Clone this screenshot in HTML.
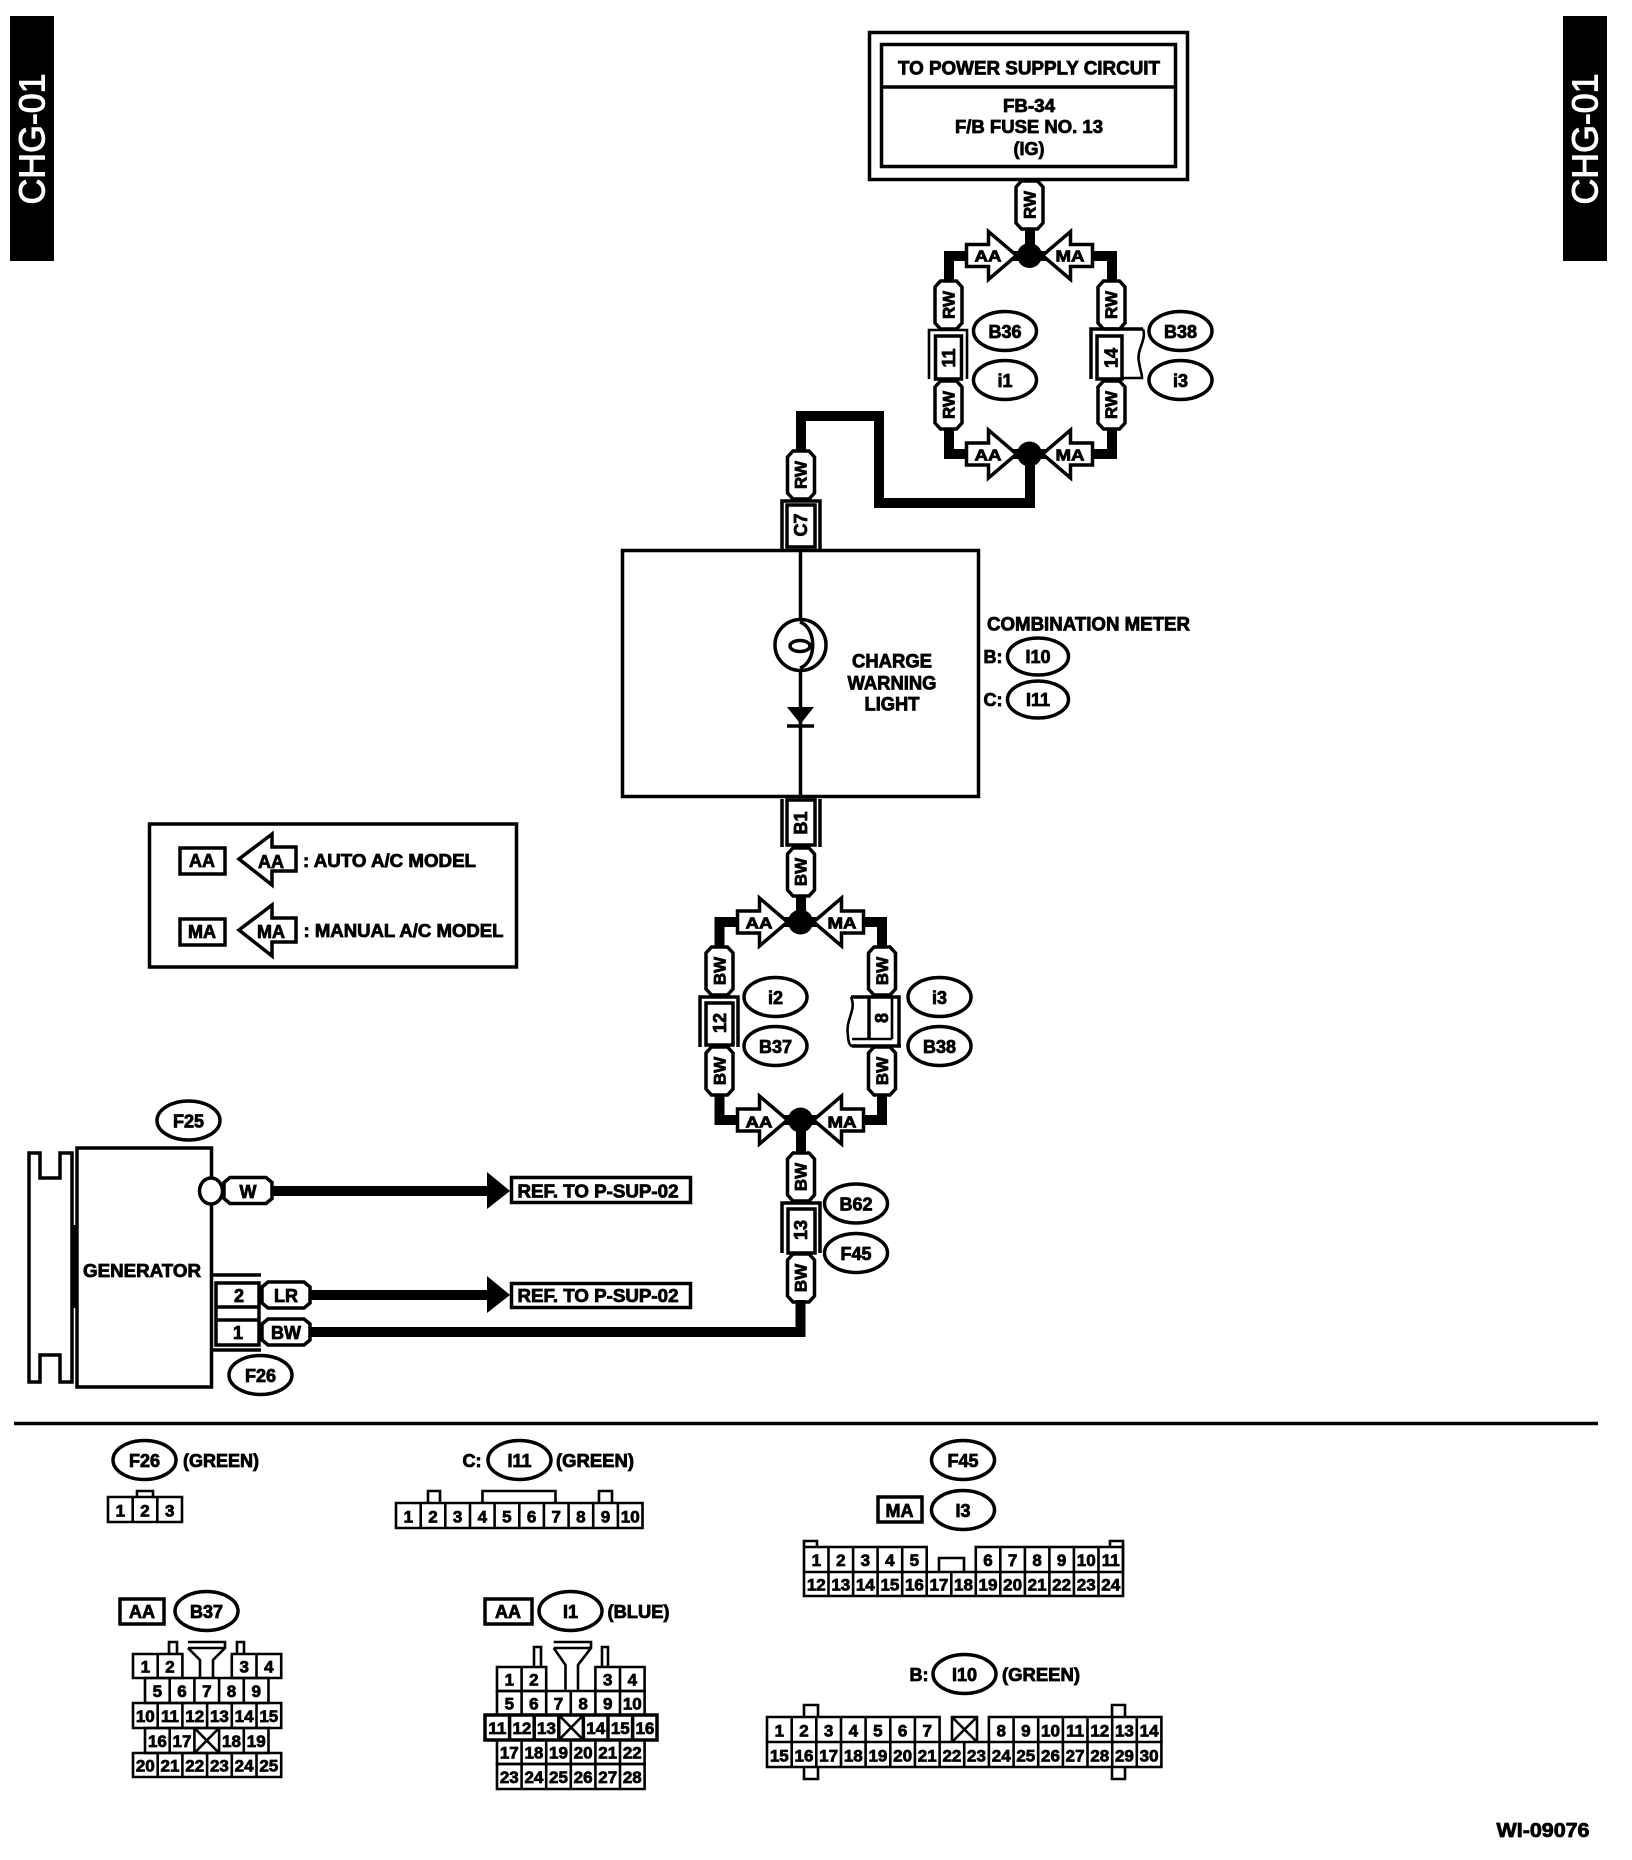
<!DOCTYPE html>
<html><head><meta charset="utf-8"><style>
html,body{margin:0;padding:0;background:#fff}
svg{display:block}
text{font-family:"Liberation Sans",sans-serif;font-weight:bold;fill:#000;stroke:#000;stroke-width:.8;text-anchor:middle;dominant-baseline:central;font-size:18px}
text:not([transform]){transform:translateY(.8px)}
.w{fill:none;stroke:#000;stroke-width:10;stroke-linejoin:miter}
.b{fill:#fff;stroke:#000;stroke-width:3.5}
.n{fill:none;stroke:#000;stroke-width:3.5}
.c{fill:none;stroke:#000;stroke-width:2.6}
.e{fill:#fff;stroke:#000;stroke-width:3.5}
.s{font-size:16px}
.ws{font-size:17px}
.d{font-size:17px;stroke-width:.75}
</style></head><body>
<svg width="1632" height="1860" viewBox="0 0 1632 1860" xmlns="http://www.w3.org/2000/svg">
<defs>
<polygon id="vc" class="b" points="-8,-24 8,-24 13.5,-18 13.5,18 8,24 -8,24 -13.5,18 -13.5,-18"/>
<polygon id="hc" class="b" points="-24,-8 -24,8 -18,13 18,13 24,8 24,-8 18,-13 -18,-13"/>
<g id="jn">
<polygon class="b" points="-63,-11 -41,-11 -41,-24 -13,0 -41,24 -41,11 -63,11"/>
<polygon class="b" points="63,-11 41,-11 41,-24 13,0 41,24 41,11 63,11"/>
<circle r="12.5" fill="#000"/>
</g>
</defs>
<rect width="1632" height="1860" fill="#fff"/>

<!-- side tabs -->
<rect x="10" y="16" width="44" height="245" fill="#000"/>
<rect x="1563" y="16" width="44" height="245" fill="#000"/>
<text transform="rotate(-90 32 139)" x="32" y="139" textLength="131" lengthAdjust="spacingAndGlyphs" style="font-size:36px;font-weight:normal;fill:#fff;stroke:#fff;stroke-width:1">CHG-01</text>
<text transform="rotate(-90 1585 139)" x="1585" y="139" textLength="131" lengthAdjust="spacingAndGlyphs" style="font-size:36px;font-weight:normal;fill:#fff;stroke:#fff;stroke-width:1">CHG-01</text>

<!-- power box -->
<rect x="869.500" y="32.500" width="318" height="147" class="n"/>
<rect x="881.500" y="44.500" width="294" height="122" class="n"/>
<path d="M881 87H1176" class="n"/>
<text x="1029" y="68" textLength="262" lengthAdjust="spacingAndGlyphs" style="font-size:19px">TO POWER SUPPLY CIRCUIT</text>
<text x="1029" y="105" textLength="52" lengthAdjust="spacingAndGlyphs">FB-34</text>
<text x="1029" y="126" textLength="148" lengthAdjust="spacingAndGlyphs">F/B FUSE NO. 13</text>
<text x="1029" y="148">(IG)</text>

<!-- wires top group -->
<path class="w" d="M1030 225V255M1030 454V503H879V416H801V455"/>
<path class="w" d="M1030 256H949V290M1030 256H1112V290M949 420V454H1112V420"/>
<use href="#jn" x="1029.500" y="255.500"/>
<use href="#jn" x="1029.500" y="454"/>
<text class="s" x="988" y="256" textLength="27" lengthAdjust="spacingAndGlyphs">AA</text>
<text class="s" x="1070" y="256" textLength="29" lengthAdjust="spacingAndGlyphs">MA</text>
<text class="s" x="988" y="455" textLength="27" lengthAdjust="spacingAndGlyphs">AA</text>
<text class="s" x="1070" y="455" textLength="29" lengthAdjust="spacingAndGlyphs">MA</text>

<use href="#vc" x="1029.500" y="205"/>
<text class="ws" transform="rotate(-90 1030 205)" x="1030" y="205">RW</text>
<use href="#vc" x="948.500" y="305"/>
<text class="ws" transform="rotate(-90 949 305)" x="949" y="305">RW</text>
<use href="#vc" x="948.500" y="405"/>
<text class="ws" transform="rotate(-90 949 405)" x="949" y="405">RW</text>
<use href="#vc" x="1111.500" y="305"/>
<text class="ws" transform="rotate(-90 1111.500 305)" x="1111.500" y="305">RW</text>
<use href="#vc" x="1111.500" y="405"/>
<text class="ws" transform="rotate(-90 1111.500 405)" x="1111.500" y="405">RW</text>

<!-- connector 11 -->
<path class="c" d="M929 379V330H967V379"/>
<rect x="935.500" y="336" width="26" height="43" class="n"/>
<text transform="rotate(-90 949 358)" x="949" y="358">11</text>
<!-- connector 14 -->
<path class="n" d="M1091 379V329H1143"/>
<path class="c" d="M1143 329C1147 340 1136 350 1139 362C1140 370 1142 373 1142 378H1122"/>
<rect x="1097" y="336" width="25" height="43" class="n"/>
<text transform="rotate(-90 1111.500 358)" x="1111.500" y="358">14</text>

<ellipse class="e" cx="1005" cy="331" rx="31.500" ry="19.500"/>
<text x="1005" y="331">B36</text>
<ellipse class="e" cx="1005" cy="380" rx="31.500" ry="19.500"/>
<text x="1005" y="380">i1</text>
<ellipse class="e" cx="1180.500" cy="331" rx="31.500" ry="19.500"/>
<text x="1180.500" y="331">B38</text>
<ellipse class="e" cx="1180.500" cy="380" rx="31.500" ry="19.500"/>
<text x="1180.500" y="380">i3</text>

<!-- RW / C7 -->
<use href="#vc" x="801" y="475"/>
<text class="ws" transform="rotate(-90 801 475)" x="801" y="475">RW</text>
<path class="n" d="M782 549V501H820V549"/>
<rect x="787" y="505" width="28" height="42" class="n"/>
<text transform="rotate(-90 801 525)" x="801" y="525">C7</text>

<!-- meter -->
<rect x="622.500" y="550.500" width="356" height="246" class="n"/>
<path class="n" d="M800.500 550V620M800.500 670V797"/>
<ellipse class="n" cx="800.500" cy="645" rx="25.500" ry="25.500"/>
<path class="n" d="M800 622C817 628 817 662 800 668"/>
<ellipse class="n" cx="800" cy="646" rx="10" ry="5.500"/>
<polygon points="787,707 814,707 800.500,724" fill="#000"/>
<path d="M787 726H814" class="n"/>
<text x="892" y="661" textLength="80" lengthAdjust="spacingAndGlyphs" style="font-size:19px">CHARGE</text>
<text x="892" y="683" textLength="89" lengthAdjust="spacingAndGlyphs" style="font-size:19px">WARNING</text>
<text x="892" y="704" textLength="55" lengthAdjust="spacingAndGlyphs" style="font-size:19px">LIGHT</text>
<text x="1088.500" y="624" textLength="203" lengthAdjust="spacingAndGlyphs" style="font-size:19px">COMBINATION METER</text>
<text x="993" y="656">B:</text>
<text x="993" y="699">C:</text>
<ellipse class="e" cx="1038" cy="656.500" rx="30.500" ry="18.500"/>
<text x="1038" y="656">I10</text>
<ellipse class="e" cx="1038" cy="699.500" rx="30.500" ry="18.500"/>
<text x="1038" y="699">I11</text>

<!-- B1 -->
<path class="n" d="M782 799V847M820 799V847"/>
<rect x="787" y="800" width="28" height="45" class="n"/>
<text transform="rotate(-90 801 823)" x="801" y="823">B1</text>
<use href="#vc" x="801" y="872"/>
<text class="ws" transform="rotate(-90 801 872)" x="801" y="872">BW</text>

<!-- lower group -->
<path class="w" d="M801 895V922M801 1120V1155"/>
<path class="w" d="M801 922H719.500V955M801 922H882V955M719.500 1090V1120H882V1090"/>
<use href="#jn" x="800.500" y="922"/>
<use href="#jn" x="800.500" y="1120"/>
<text class="s" x="759" y="923" textLength="27" lengthAdjust="spacingAndGlyphs">AA</text>
<text class="s" x="842" y="923" textLength="29" lengthAdjust="spacingAndGlyphs">MA</text>
<text class="s" x="759" y="1122" textLength="27" lengthAdjust="spacingAndGlyphs">AA</text>
<text class="s" x="842" y="1122" textLength="29" lengthAdjust="spacingAndGlyphs">MA</text>
<use href="#vc" x="719.500" y="971"/>
<text class="ws" transform="rotate(-90 720 971)" x="720" y="971">BW</text>
<use href="#vc" x="719.500" y="1071"/>
<text class="ws" transform="rotate(-90 720 1071)" x="720" y="1071">BW</text>
<use href="#vc" x="882" y="971"/>
<text class="ws" transform="rotate(-90 882.500 971)" x="882.500" y="971">BW</text>
<use href="#vc" x="882" y="1071"/>
<text class="ws" transform="rotate(-90 882.500 1071)" x="882.500" y="1071">BW</text>

<!-- connector 12 -->
<path class="n" d="M700 1047V997H738V1047"/>
<rect x="706" y="1003" width="27" height="42" class="n"/>
<text transform="rotate(-90 720 1023)" x="720" y="1023">12</text>
<!-- connector 8 -->
<path class="n" d="M899 1046V997H851"/>
<path class="c" d="M851 997C857 1010 845 1020 848 1035C848 1042 850 1046 852 1046"/>
<path class="n" d="M852 1046H901"/>
<path class="c" d="M852 1039H892M892 998V1039"/>
<path class="n" d="M869 998V1039"/>
<text transform="rotate(-90 882 1018)" x="882" y="1018">8</text>

<ellipse class="e" cx="775.500" cy="997" rx="31.500" ry="19.500"/>
<text x="775.500" y="997">i2</text>
<ellipse class="e" cx="775.500" cy="1046" rx="31.500" ry="19.500"/>
<text x="775.500" y="1046">B37</text>
<ellipse class="e" cx="939.500" cy="997" rx="31.500" ry="19.500"/>
<text x="939.500" y="997">i3</text>
<ellipse class="e" cx="939.500" cy="1046" rx="31.500" ry="19.500"/>
<text x="939.500" y="1046">B38</text>

<!-- 13 -->
<use href="#vc" x="801" y="1177"/>
<text class="ws" transform="rotate(-90 801 1177)" x="801" y="1177">BW</text>
<path class="n" d="M782 1253V1203H820V1253"/>
<rect x="788" y="1209" width="27" height="44" class="n"/>
<text transform="rotate(-90 801 1230)" x="801" y="1230">13</text>
<use href="#vc" x="801" y="1278"/>
<text class="ws" transform="rotate(-90 801 1278)" x="801" y="1278">BW</text>
<ellipse class="e" cx="856" cy="1203.500" rx="31.500" ry="19.500"/>
<text x="856" y="1203.500">B62</text>
<ellipse class="e" cx="856" cy="1253" rx="31.500" ry="19.500"/>
<text x="856" y="1253">F45</text>

<!-- legend -->
<rect x="149.500" y="824" width="367" height="143" class="n"/>
<rect x="180" y="848" width="45" height="26" class="n"/>
<text x="202" y="860">AA</text>
<polygon class="b" points="239,859 272,834 272,847 296,847 296,871 272,871 272,885"/>
<text x="271" y="861">AA</text>
<text x="389.500" y="860" textLength="173" lengthAdjust="spacingAndGlyphs">: AUTO A/C MODEL</text>
<rect x="180" y="919" width="45" height="26" class="n"/>
<text x="202" y="931">MA</text>
<polygon class="b" points="239,930 272,905 272,918 296,918 296,942 272,942 272,956"/>
<text x="271" y="931">MA</text>
<text x="403.500" y="930" textLength="200" lengthAdjust="spacingAndGlyphs">: MANUAL A/C MODEL</text>

<!-- generator -->
<path class="n" d="M29 1153H40V1178H60V1153H72V1382H60V1355H40V1382H29Z"/>
<path d="M74 1225V1308" class="n"/>
<rect x="77" y="1148" width="134.500" height="239" class="b"/>
<text x="142" y="1270" textLength="118" lengthAdjust="spacingAndGlyphs">GENERATOR</text>
<ellipse class="e" cx="211" cy="1191" rx="11.500" ry="13"/>
<ellipse class="e" cx="188.500" cy="1120.500" rx="31.500" ry="19.500"/>
<text x="188.500" y="1120.500">F25</text>
<ellipse class="e" cx="260.500" cy="1375" rx="31.500" ry="19.500"/>
<text x="260.500" y="1375">F26</text>

<path class="w" d="M270 1191H490M305 1295H490M305 1332H800.500V1300"/>
<use href="#hc" x="248" y="1190.500"/>
<text x="248" y="1191">W</text>
<use href="#hc" x="286" y="1295"/>
<text x="286" y="1295">LR</text>
<use href="#hc" x="286" y="1332"/>
<text x="286" y="1332">BW</text>
<polygon points="487,1172 510,1191 487,1209" fill="#000"/>
<polygon points="487,1276 510,1295 487,1313" fill="#000"/>
<rect x="511.500" y="1177.500" width="179" height="25" class="n"/>
<rect x="511.500" y="1283.500" width="179" height="24" class="n"/>
<text x="598" y="1190.500" textLength="161" lengthAdjust="spacingAndGlyphs">REF. TO P-SUP-02</text>
<text x="598" y="1295" textLength="161" lengthAdjust="spacingAndGlyphs">REF. TO P-SUP-02</text>
<path class="n" d="M212 1275H261M212 1350H261"/>
<rect x="216" y="1283" width="43" height="62" class="n"/>
<path class="n" d="M216 1307H259M216 1320H259"/>
<text x="239" y="1295">2</text>
<text x="238" y="1332">1</text>

<!-- divider -->
<path d="M14 1423.500H1598" class="n"/>

<!-- F26 -->
<ellipse class="e" cx="144.500" cy="1460" rx="31.500" ry="19.500"/>
<text x="144.500" y="1460">F26</text>
<text x="221" y="1460" textLength="76" lengthAdjust="spacingAndGlyphs">(GREEN)</text>
<path class="c" d="M137 1497V1491H153V1497"/>
<path class="c" d="M108 1497H182V1522H108ZM132.700 1497V1522M157.300 1497V1522"/>
<text class="d" x="120.300" y="1510">1</text><text class="d" x="145" y="1510">2</text><text class="d" x="169.700" y="1510">3</text>

<!-- I11 -->
<text x="472" y="1460">C:</text>
<ellipse class="e" cx="519.500" cy="1460" rx="31.500" ry="19.500"/>
<text x="519.500" y="1460">I11</text>
<text x="595" y="1460" textLength="78" lengthAdjust="spacingAndGlyphs">(GREEN)</text>
<path class="c" d="M428 1503V1491H440V1503M482.500 1503V1491H555.500V1503M599 1503V1491H612V1503"/>
<path class="c" d="M396 1503H642.500V1528H396ZM420.700 1503V1528M445.300 1503V1528M470 1503V1528M494.600 1503V1528M519.300 1503V1528M543.900 1503V1528M568.600 1503V1528M593.200 1503V1528M617.900 1503V1528"/>
<text class="d" x="408.300" y="1516">1</text><text class="d" x="433" y="1516">2</text><text class="d" x="457.600" y="1516">3</text><text class="d" x="482.300" y="1516">4</text><text class="d" x="506.900" y="1516">5</text><text class="d" x="531.600" y="1516">6</text><text class="d" x="556.200" y="1516">7</text><text class="d" x="580.900" y="1516">8</text><text class="d" x="605.500" y="1516">9</text><text class="d" x="630.200" y="1516">10</text>

<!-- B37 -->
<rect x="120" y="1599" width="44" height="25" class="n"/>
<text x="142" y="1611">AA</text>
<ellipse class="e" cx="206.500" cy="1611" rx="31.500" ry="19.500"/>
<text x="206.500" y="1611">B37</text>
<path class="c" d="M169 1654V1642H177V1654M237 1654V1642H244V1654"/>
<path class="c" d="M188 1642H225V1648L213 1660V1678M188 1648H225M188 1648L200 1660V1678"/>
<path class="c" d="M133 1654H182.400V1678H133ZM157.700 1654V1678M231.800 1654H281.200V1678H231.800ZM256.500 1654V1678"/>
<path class="c" d="M145 1678H268.500V1703H145ZM169.700 1678V1703M194.400 1678V1703M219.100 1678V1703M243.800 1678V1703"/>
<path class="c" d="M133 1703H281.200V1728H133ZM157.700 1703V1728M182.400 1703V1728M207.100 1703V1728M231.800 1703V1728M256.500 1703V1728"/>
<path class="c" d="M145 1728H268.500V1753H145ZM169.700 1728V1753M194.400 1728V1753M219.100 1728V1753M243.800 1728V1753M194.400 1728L219.100 1753M219.100 1728L194.400 1753"/>
<path class="c" d="M133 1753H281.200V1777H133ZM157.700 1753V1777M182.400 1753V1777M207.100 1753V1777M231.800 1753V1777M256.500 1753V1777"/>
<text class="d" x="145.300" y="1666">1</text><text class="d" x="170" y="1666">2</text><text class="d" x="244.200" y="1666">3</text><text class="d" x="268.800" y="1666">4</text>
<text class="d" x="157.400" y="1690.500">5</text><text class="d" x="182" y="1690.500">6</text><text class="d" x="206.800" y="1690.500">7</text><text class="d" x="231.500" y="1690.500">8</text><text class="d" x="256.200" y="1690.500">9</text>
<text class="d" x="145.300" y="1715.500">10</text><text class="d" x="170" y="1715.500">11</text><text class="d" x="194.700" y="1715.500">12</text><text class="d" x="219.400" y="1715.500">13</text><text class="d" x="244.100" y="1715.500">14</text><text class="d" x="268.800" y="1715.500">15</text>
<text class="d" x="157.400" y="1740.500">16</text><text class="d" x="182" y="1740.500">17</text><text class="d" x="231.500" y="1740.500">18</text><text class="d" x="256.200" y="1740.500">19</text>
<text class="d" x="145.300" y="1765">20</text><text class="d" x="170" y="1765">21</text><text class="d" x="194.700" y="1765">22</text><text class="d" x="219.400" y="1765">23</text><text class="d" x="244.100" y="1765">24</text><text class="d" x="268.800" y="1765">25</text>

<!-- I1 -->
<rect x="485" y="1599" width="47" height="25" class="n"/>
<text x="508" y="1611">AA</text>
<ellipse class="e" cx="570.500" cy="1611" rx="31.500" ry="19.500"/>
<text x="570.500" y="1611">I1</text>
<text x="638.500" y="1611" textLength="62" lengthAdjust="spacingAndGlyphs">(BLUE)</text>
<path class="c" d="M534 1667V1647H541V1667M602 1667V1647H608V1667"/>
<path class="c" d="M553.700 1642H591V1648L578 1665V1691M553.700 1648H591M553.700 1648L565.500 1665V1691"/>
<path class="c" d="M497 1667H546.200V1691H497ZM521.600 1667V1691M595.400 1667H644.600V1691H595.400ZM620 1667V1691"/>
<path class="c" d="M497 1691H644.600V1715H497ZM521.600 1691V1715M546.200 1691V1715M570.800 1691V1715M595.400 1691V1715M620 1691V1715"/>
<path class="n" d="M485 1715H657V1740H485ZM509.600 1715V1740M534.200 1715V1740M558.800 1715V1740M583.400 1715V1740M608 1715V1740M632.600 1715V1740"/>
<path class="c" d="M558.800 1715L583.400 1740M583.400 1715L558.800 1740"/>
<path class="c" d="M497 1740H644.600V1764H497ZM521.600 1740V1764M546.200 1740V1764M570.800 1740V1764M595.400 1740V1764M620 1740V1764"/>
<path class="c" d="M497 1764H644.600V1789H497ZM521.600 1764V1789M546.200 1764V1789M570.800 1764V1789M595.400 1764V1789M620 1764V1789"/>
<text class="d" x="509.300" y="1679">1</text><text class="d" x="533.900" y="1679">2</text><text class="d" x="607.700" y="1679">3</text><text class="d" x="632.300" y="1679">4</text>
<text class="d" x="509.300" y="1703">5</text><text class="d" x="533.900" y="1703">6</text><text class="d" x="558.500" y="1703">7</text><text class="d" x="583.100" y="1703">8</text><text class="d" x="607.700" y="1703">9</text><text class="d" x="632.300" y="1703">10</text>
<text class="d" x="497.300" y="1727.500">11</text><text class="d" x="521.900" y="1727.500">12</text><text class="d" x="546.500" y="1727.500">13</text><text class="d" x="595.700" y="1727.500">14</text><text class="d" x="620.300" y="1727.500">15</text><text class="d" x="644.900" y="1727.500">16</text>
<text class="d" x="509.300" y="1752">17</text><text class="d" x="533.900" y="1752">18</text><text class="d" x="558.500" y="1752">19</text><text class="d" x="583.100" y="1752">20</text><text class="d" x="607.700" y="1752">21</text><text class="d" x="632.300" y="1752">22</text>
<text class="d" x="509.300" y="1776.500">23</text><text class="d" x="533.900" y="1776.500">24</text><text class="d" x="558.500" y="1776.500">25</text><text class="d" x="583.100" y="1776.500">26</text><text class="d" x="607.700" y="1776.500">27</text><text class="d" x="632.300" y="1776.500">28</text>

<!-- F45 / I3 -->
<ellipse class="e" cx="963" cy="1460" rx="31.500" ry="19.500"/>
<text x="963" y="1460">F45</text>
<rect x="878" y="1497" width="44" height="25" class="n"/>
<text x="899.500" y="1510">MA</text>
<ellipse class="e" cx="963" cy="1510" rx="31.500" ry="19.500"/>
<text x="963" y="1510">I3</text>
<path class="c" d="M804 1547V1541H817V1547M1110 1547V1541H1123V1547M939 1572V1558H964V1572"/>
<path class="c" d="M804 1547H926.700V1572M828.500 1547V1572M853.100 1547V1572M877.600 1547V1572M902.200 1547V1572M975.800 1572V1547H1123V1572M1000.300 1547V1572M1024.900 1547V1572M1049.400 1547V1572M1073.900 1547V1572M1098.500 1547V1572"/>
<path class="c" d="M804 1547V1596H1123V1547M804 1572H1123M828.500 1572V1596M853.100 1572V1596M877.600 1572V1596M902.200 1572V1596M926.700 1572V1596M951.300 1572V1596M975.800 1572V1596M1000.300 1572V1596M1024.900 1572V1596M1049.400 1572V1596M1073.900 1572V1596M1098.500 1572V1596"/>
<text class="d" x="816.300" y="1559.500">1</text><text class="d" x="840.800" y="1559.500">2</text><text class="d" x="865.300" y="1559.500">3</text><text class="d" x="889.900" y="1559.500">4</text><text class="d" x="914.400" y="1559.500">5</text><text class="d" x="988" y="1559.500">6</text><text class="d" x="1012.600" y="1559.500">7</text><text class="d" x="1037.100" y="1559.500">8</text><text class="d" x="1061.600" y="1559.500">9</text><text class="d" x="1086.200" y="1559.500">10</text><text class="d" x="1110.700" y="1559.500">11</text>
<text class="d" x="816.300" y="1584">12</text><text class="d" x="840.800" y="1584">13</text><text class="d" x="865.300" y="1584">14</text><text class="d" x="889.900" y="1584">15</text><text class="d" x="914.400" y="1584">16</text><text class="d" x="938.900" y="1584">17</text><text class="d" x="963.500" y="1584">18</text><text class="d" x="988" y="1584">19</text><text class="d" x="1012.600" y="1584">20</text><text class="d" x="1037.100" y="1584">21</text><text class="d" x="1061.600" y="1584">22</text><text class="d" x="1086.200" y="1584">23</text><text class="d" x="1110.700" y="1584">24</text>

<!-- I10 -->
<text x="919" y="1674">B:</text>
<ellipse class="e" cx="964.500" cy="1674" rx="31.500" ry="19.500"/>
<text x="964.500" y="1674">I10</text>
<text x="1041" y="1674" textLength="78" lengthAdjust="spacingAndGlyphs">(GREEN)</text>
<path class="c" d="M804 1717V1705H818V1717M1112 1717V1705H1125V1717M804 1767V1779H818V1767M1112 1767V1779H1125V1767"/>
<path class="c" d="M767 1742V1717H939.600V1742M791.700 1717V1742M816.300 1717V1742M841 1717V1742M865.600 1717V1742M890.300 1717V1742M914.900 1717V1742M988.900 1742V1717H1161.400V1742M1013.600 1717V1742M1038.200 1717V1742M1062.900 1717V1742M1087.500 1717V1742M1112.200 1717V1742M1136.800 1717V1742"/>
<path class="c" d="M952 1742V1717H977V1742M952 1742L977 1717M952 1717L977 1742"/>
<path class="c" d="M767 1742H1161.400V1767H767ZM791.700 1742V1767M816.300 1742V1767M841 1742V1767M865.600 1742V1767M890.300 1742V1767M914.900 1742V1767M939.600 1742V1767M964.200 1742V1767M988.900 1742V1767M1013.600 1742V1767M1038.200 1742V1767M1062.900 1742V1767M1087.500 1742V1767M1112.200 1742V1767M1136.800 1742V1767"/>
<text class="d" x="779.300" y="1730">1</text><text class="d" x="804" y="1730">2</text><text class="d" x="828.600" y="1730">3</text><text class="d" x="853.300" y="1730">4</text><text class="d" x="877.900" y="1730">5</text><text class="d" x="902.600" y="1730">6</text><text class="d" x="927.200" y="1730">7</text><text class="d" x="1001.200" y="1730">8</text><text class="d" x="1025.800" y="1730">9</text><text class="d" x="1050.500" y="1730">10</text><text class="d" x="1075.100" y="1730">11</text><text class="d" x="1099.800" y="1730">12</text><text class="d" x="1124.400" y="1730">13</text><text class="d" x="1149.100" y="1730">14</text>
<text class="d" x="779.300" y="1755">15</text><text class="d" x="804" y="1755">16</text><text class="d" x="828.600" y="1755">17</text><text class="d" x="853.300" y="1755">18</text><text class="d" x="877.900" y="1755">19</text><text class="d" x="902.600" y="1755">20</text><text class="d" x="927.200" y="1755">21</text><text class="d" x="951.900" y="1755">22</text><text class="d" x="976.500" y="1755">23</text><text class="d" x="1001.200" y="1755">24</text><text class="d" x="1025.800" y="1755">25</text><text class="d" x="1050.500" y="1755">26</text><text class="d" x="1075.100" y="1755">27</text><text class="d" x="1099.800" y="1755">28</text><text class="d" x="1124.400" y="1755">29</text><text class="d" x="1149.100" y="1755">30</text>

<text x="1543" y="1830" textLength="93" lengthAdjust="spacingAndGlyphs" style="font-size:20px">WI-09076</text>
</svg>
</body></html>
